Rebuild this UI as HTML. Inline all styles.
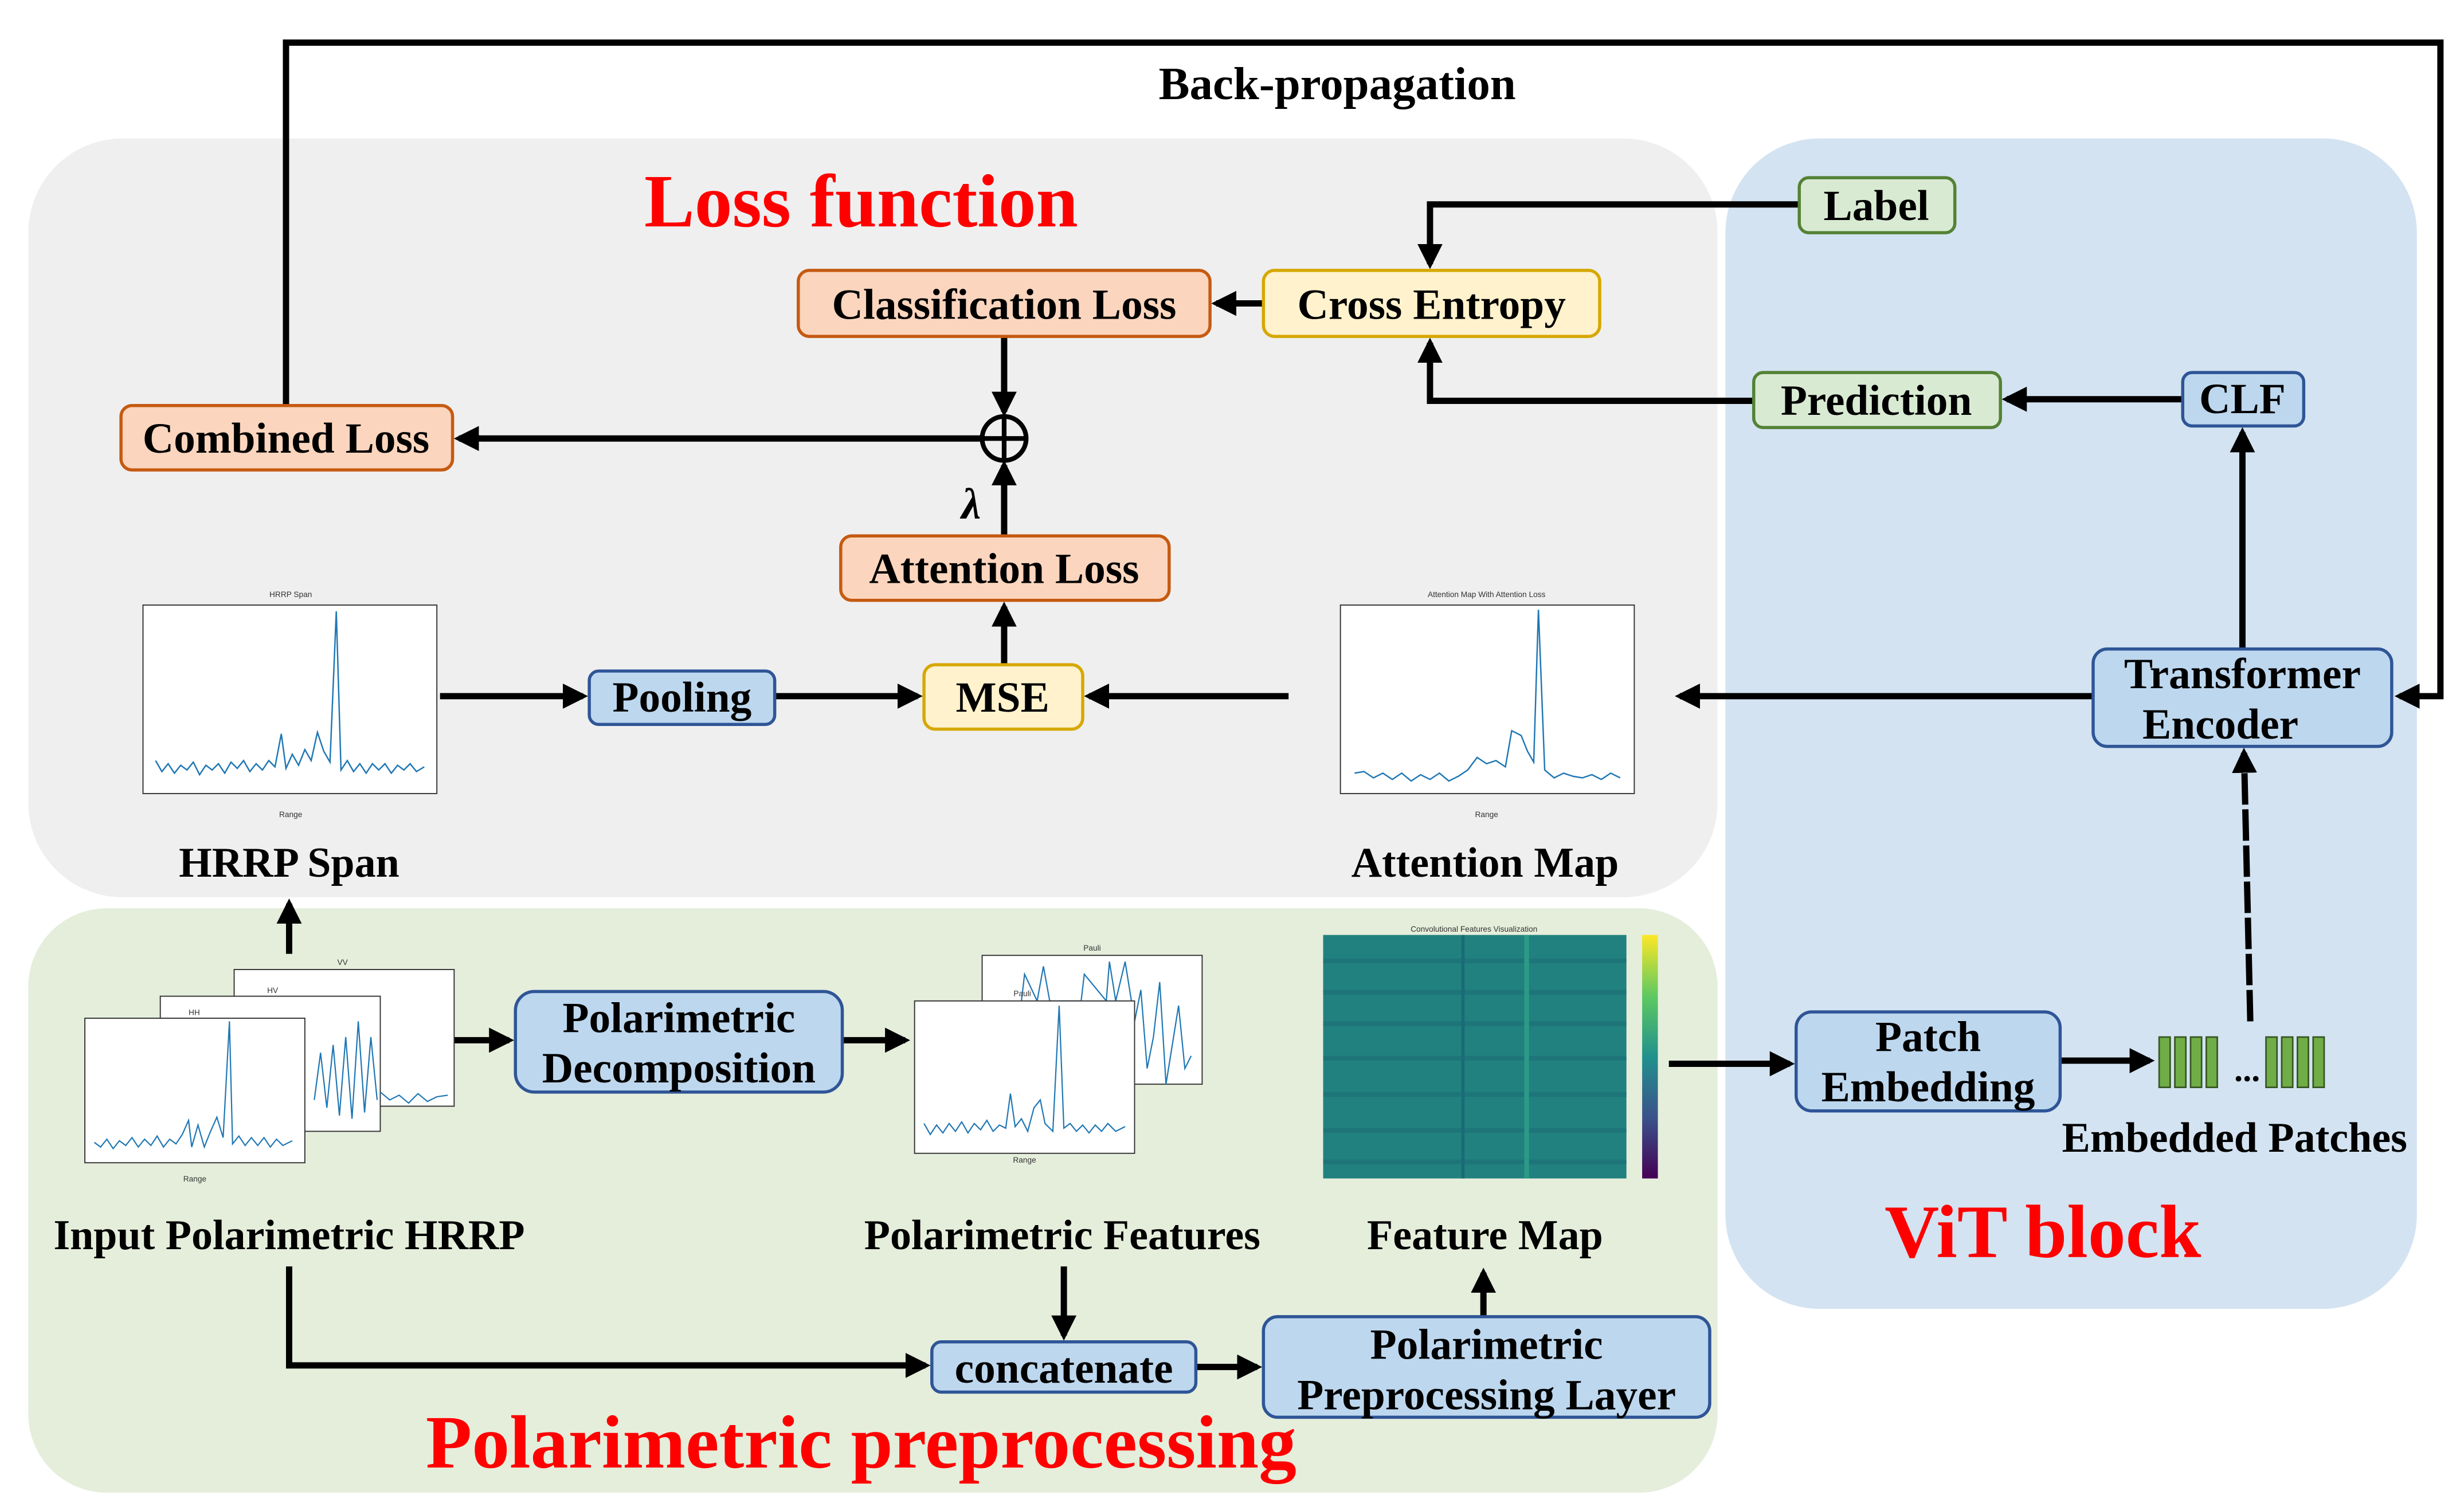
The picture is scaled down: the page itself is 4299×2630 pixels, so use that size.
<!DOCTYPE html>
<html><head><meta charset="utf-8"><style>
html,body{margin:0;padding:0;background:#fff}
svg{display:block}
text{font-family:"Liberation Serif",serif;font-weight:bold}
.bt{font-size:27.5px;text-anchor:middle;dominant-baseline:central}
.lb{font-size:27px;text-anchor:middle}
.ax{font-family:"Liberation Sans",sans-serif;font-weight:normal;font-size:5px;fill:#333}
.red{fill:#ff0000;font-size:48px;text-anchor:middle}
</style></head><body>
<svg width="4299" height="2630" viewBox="0 0 1568 959" xmlns="http://www.w3.org/2000/svg">
<defs>
<marker id="ar" viewBox="0 0 10 10" refX="8" refY="5" markerWidth="4" markerHeight="4" orient="auto" markerUnits="strokeWidth"><path d="M0,0 L10,5 L0,10 z" fill="#000"/></marker>
<linearGradient id="vir" x1="0" y1="1" x2="0" y2="0"><stop offset="0" stop-color="#440154"/><stop offset=".25" stop-color="#3b528b"/><stop offset=".5" stop-color="#21918c"/><stop offset=".75" stop-color="#5ec962"/><stop offset="1" stop-color="#fde725"/></linearGradient>
</defs>
<rect width="1568" height="959" fill="#fff"/>
<rect x="18" y="88" width="1075" height="483" rx="60" fill="#efefef"/>
<rect x="1098" y="88" width="440" height="745" rx="60" fill="#d3e3f1"/>
<rect x="18" y="578" width="1075" height="372" rx="50" fill="#e5eedb"/>
<text class="red" x="548" y="144">Loss function</text>
<text class="red" x="1300" y="800">ViT block</text>
<text class="red" x="548" y="934">Polarimetric preprocessing</text>
<polyline points="182,258 182,27 1553,27 1553,443 1527,443" fill="none" stroke="#000" stroke-width="4" marker-end="url(#ar)"/>
<text x="851" y="63" style="font-size:29.5px" text-anchor="middle">Back-propagation</text>
<g fill="none" stroke="#000" stroke-width="4" marker-end="url(#ar)">
<line x1="639" y1="214" x2="639" y2="262"/>
<line x1="625" y1="279" x2="292" y2="279"/>
<line x1="639" y1="341" x2="639" y2="296"/>
<line x1="639" y1="423" x2="639" y2="386"/>
<line x1="804" y1="193" x2="774" y2="193"/>
<polyline points="1145,130 910,130 910,168"/>
<polyline points="1116,255 910,255 910,218"/>
<line x1="1389" y1="254" x2="1277" y2="254"/>
<line x1="1427" y1="413" x2="1427" y2="275"/>
<line x1="1332" y1="443" x2="1069" y2="443"/>
<line x1="820" y1="443" x2="693" y2="443"/>
<line x1="280" y1="443" x2="371" y2="443"/>
<line x1="493" y1="443" x2="584" y2="443"/>
<line x1="184" y1="607" x2="184" y2="575"/>
<line x1="289" y1="662" x2="324" y2="662"/>
<line x1="536" y1="662" x2="576" y2="662"/>
<line x1="1062" y1="677" x2="1139" y2="677"/>
<line x1="1311" y1="675" x2="1368" y2="675"/>
<line x1="1432" y1="650" x2="1428" y2="479" stroke-dasharray="20,3"/>
<polyline points="184,806 184,869 589,869"/>
<line x1="677" y1="806" x2="677" y2="850"/>
<line x1="761" y1="870" x2="800" y2="870"/>
<line x1="944" y1="838" x2="944" y2="810"/>
</g>
<circle cx="639" cy="279" r="14" fill="none" stroke="#000" stroke-width="3"/>
<line x1="625" y1="279" x2="653" y2="279" stroke="#000" stroke-width="3"/>
<line x1="639" y1="265" x2="639" y2="293" stroke="#000" stroke-width="3"/>
<text x="618" y="330" style="font-size:28px;font-style:italic" text-anchor="middle">λ</text>
<g stroke-width="2">
<rect x="508" y="172" width="262" height="42" rx="7" fill="#fbd5bd" stroke="#c55a11"/>
<rect x="77" y="258" width="211" height="41" rx="7" fill="#fbd5bd" stroke="#c55a11"/>
<rect x="535" y="341" width="209" height="41" rx="7" fill="#fbd5bd" stroke="#c55a11"/>
<rect x="804" y="172" width="214" height="42" rx="7" fill="#fff2cc" stroke="#d6a800"/>
<rect x="588" y="423" width="101" height="41" rx="7" fill="#fff2cc" stroke="#d6a800"/>
<rect x="1145" y="113" width="99" height="35" rx="6" fill="#d9ead3" stroke="#548235"/>
<rect x="1116" y="237" width="157" height="35" rx="6" fill="#d9ead3" stroke="#548235"/>
<rect x="1389" y="237" width="77" height="34" rx="6" fill="#bdd7ee" stroke="#2f5597"/>
<rect x="1332" y="413" width="190" height="62" rx="9" fill="#bdd7ee" stroke="#2f5597"/>
<rect x="375" y="427" width="118" height="34" rx="6" fill="#bdd7ee" stroke="#2f5597"/>
<rect x="328" y="631" width="208" height="64" rx="12" fill="#bdd7ee" stroke="#2f5597"/>
<rect x="1143" y="644" width="168" height="63" rx="10" fill="#bdd7ee" stroke="#2f5597"/>
<rect x="593" y="854" width="168" height="32" rx="6" fill="#bdd7ee" stroke="#2f5597"/>
<rect x="804" y="838" width="284" height="64" rx="9" fill="#bdd7ee" stroke="#2f5597"/>
</g>
<text class="bt" x="639" y="194">Classification Loss</text>
<text class="bt" x="182" y="279">Combined Loss</text>
<text class="bt" x="639" y="362">Attention Loss</text>
<text class="bt" x="911" y="194">Cross Entropy</text>
<text class="bt" x="638" y="444">MSE</text>
<text class="bt" x="1194" y="131">Label</text>
<text class="bt" x="1194" y="255">Prediction</text>
<text class="bt" x="1427" y="254">CLF</text>
<text class="bt" x="1427" y="429">Transformer</text>
<text class="bt" x="1413" y="461">Encoder</text>
<text class="bt" x="434" y="444">Pooling</text>
<text class="bt" x="432" y="648">Polarimetric</text>
<text class="bt" x="432" y="680">Decomposition</text>
<text class="bt" x="1227" y="660">Patch</text>
<text class="bt" x="1227" y="692">Embedding</text>
<text class="bt" x="677" y="871">concatenate</text>
<text class="bt" x="946" y="856">Polarimetric</text>
<text class="bt" x="946" y="888">Preprocessing Layer</text>
<text class="lb" x="184" y="558">HRRP Span</text>
<text class="lb" x="945" y="558">Attention Map</text>
<text class="lb" x="184" y="795">Input Polarimetric HRRP</text>
<text class="lb" x="676" y="795">Polarimetric Features</text>
<text class="lb" x="945" y="795">Feature Map</text>
<text class="lb" x="1422" y="733">Embedded Patches</text>
<g fill="#70ad47" stroke="#375623" stroke-width="1">
<rect x="1374" y="660" width="7" height="32"/><rect x="1384" y="660" width="7" height="32"/><rect x="1394" y="660" width="7" height="32"/><rect x="1404" y="660" width="7" height="32"/>
<rect x="1442" y="660" width="7" height="32"/><rect x="1452" y="660" width="7" height="32"/><rect x="1462" y="660" width="7" height="32"/><rect x="1472" y="660" width="7" height="32"/>
</g>
<text x="1430" y="688" style="font-size:22px" text-anchor="middle">...</text>
<rect x="91" y="385" width="187" height="120" fill="#fff" stroke="#333" stroke-width="0.7"/>
<text class="ax" x="185" y="380" text-anchor="middle">HRRP Span</text>
<text class="ax" x="185" y="520" text-anchor="middle">Range</text>
<polyline fill="none" stroke="#1f77b4" stroke-width="0.9" points="99,484 103,491 107,486 111,492 115,487 119,490 123,485 127,493 131,487 135,490 139,486 143,492 147,485 151,489 155,484 159,491 163,486 167,490 171,484 175,488 179,467 182,489 186,480 190,487 194,477 198,484 202,466 206,478 210,485 214,389 217,490 221,484 225,491 229,486 233,492 237,486 241,490 245,486 249,492 253,487 257,490 261,486 265,491 270,488"/>
<rect x="853" y="385" width="187" height="120" fill="#fff" stroke="#333" stroke-width="0.7"/>
<text class="ax" x="946" y="380" text-anchor="middle">Attention Map With Attention Loss</text>
<text class="ax" x="946" y="520" text-anchor="middle">Range</text>
<polyline fill="none" stroke="#1f77b4" stroke-width="0.9" points="862,492 868,491 874,495 880,492 886,496 892,492 898,497 904,493 910,496 916,492 922,497 928,494 934,490 940,482 946,486 952,484 958,488 962,465 968,468 972,478 976,485 979,388 983,490 989,495 995,492 1001,494 1007,495 1013,493 1019,496 1025,492 1031,495"/>
<rect x="149" y="617" width="140" height="87" fill="#fff" stroke="#333" stroke-width="0.7"/>
<text class="ax" x="218" y="614" text-anchor="middle">VV</text>
<rect x="102" y="634" width="140" height="86" fill="#fff" stroke="#333" stroke-width="0.7"/>
<polyline fill="none" stroke="#1f77b4" stroke-width="0.8" points="242,695 248,700 254,697 260,702 266,696 272,701 278,698 285,697"/>
<polyline fill="none" stroke="#1f77b4" stroke-width="0.8" points="200,700 204,670 208,705 212,665 216,710 220,660 224,712 228,650 232,708 236,660 240,700"/>
<text class="ax" x="170" y="632">HV</text>
<rect x="54" y="648" width="140" height="92" fill="#fff" stroke="#333" stroke-width="0.7"/>
<text class="ax" x="120" y="646">HH</text>
<polyline fill="none" stroke="#1f77b4" stroke-width="0.8" points="60,727 64,730 68,725 72,731 76,726 80,729 84,724 88,730 92,725 96,729 100,723 104,730 108,725 112,728 116,722 120,713 122,730 126,716 130,730 134,720 138,711 142,724 146,650 148,728 152,723 156,729 160,724 164,729 168,724 172,730 176,725 180,729 186,726"/>
<text class="ax" x="124" y="752" text-anchor="middle">Range</text>
<rect x="625" y="608" width="140" height="82" fill="#fff" stroke="#333" stroke-width="0.7"/>
<text class="ax" x="695" y="605" text-anchor="middle">Pauli</text>
<polyline fill="none" stroke="#1f77b4" stroke-width="0.8" points="722,650 726,630 730,680 734,660 738,625 742,690 746,665 750,640 754,680 758,672"/>
<polyline fill="none" stroke="#1f77b4" stroke-width="0.8" points="650,637 652,620 660,637 664,615 668,637 688,637 690,620 704,637 706,612 710,637 716,612 720,637"/>
<rect x="582" y="637" width="140" height="97" fill="#fff" stroke="#333" stroke-width="0.7"/>
<text class="ax" x="645" y="634">Pauli</text>
<polyline fill="none" stroke="#1f77b4" stroke-width="0.8" points="588,715 592,722 596,716 600,721 604,715 608,720 612,714 616,721 620,715 624,719 628,713 632,720 636,716 640,718 643,696 646,717 650,712 654,720 658,705 662,700 665,715 670,720 674,640 677,718 681,715 685,720 689,716 693,721 697,716 701,720 705,715 710,720 716,717"/>
<text class="ax" x="652" y="740" text-anchor="middle">Range</text>
<rect x="842" y="595" width="193" height="155" fill="#21817e"/>
<g fill="#1e7077" opacity="0.7">
<rect x="842" y="610" width="193" height="3"/><rect x="842" y="630" width="193" height="3"/><rect x="842" y="650" width="193" height="3"/><rect x="842" y="672" width="193" height="3"/><rect x="842" y="695" width="193" height="3"/><rect x="842" y="718" width="193" height="3"/><rect x="842" y="738" width="193" height="3"/>
</g>
<rect x="970" y="595" width="3" height="155" fill="#2c9a86"/>
<rect x="930" y="595" width="2" height="155" fill="#1a6a79"/>
<rect x="1045" y="595" width="10" height="155" fill="url(#vir)"/>
<text class="ax" x="938" y="593" text-anchor="middle">Convolutional Features Visualization</text>
</svg>
</body></html>
